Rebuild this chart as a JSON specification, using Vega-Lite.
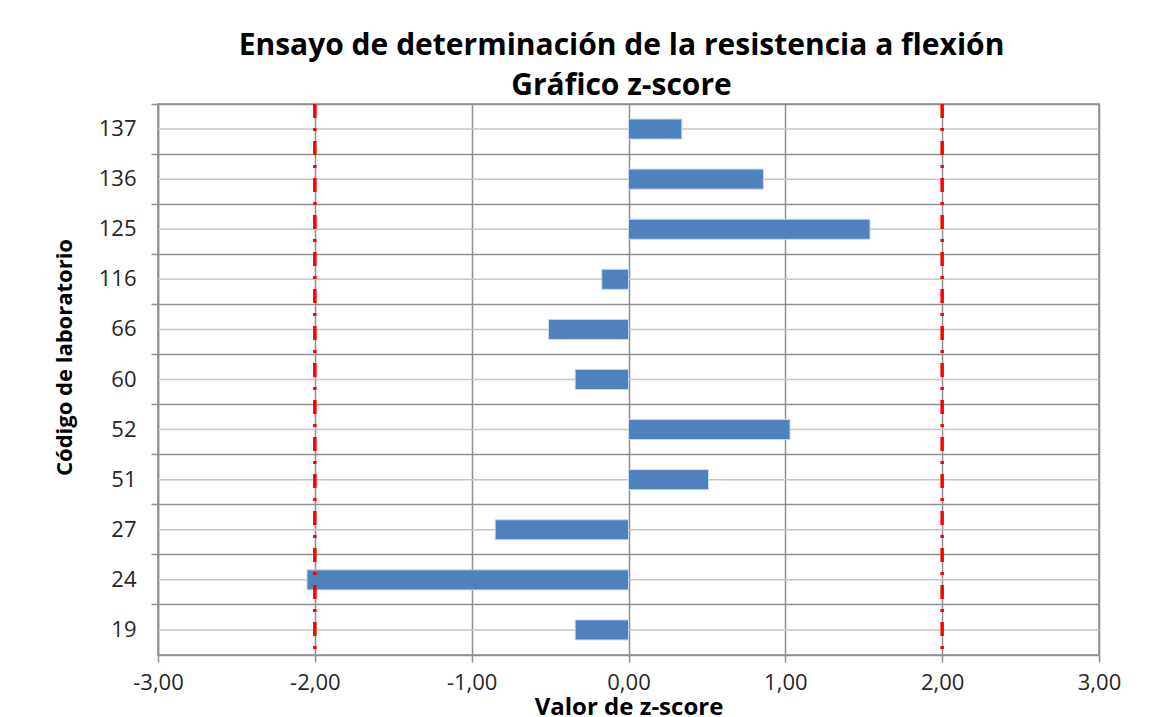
{
  "$schema": "https://vega.github.io/schema/vega-lite/v6.json",
  "width": 941,
  "height": 551,
  "autosize": "none",
  "padding": {"left": 158, "top": 104, "right": 61, "bottom": 62},
  "background": "white",
  "title": {
    "text": ["Ensayo de determinación de la resistencia a flexión", "Gráfico z-score"],
    "font": "Open Sans",
    "fontSize": 30,
    "fontWeight": "bold",
    "color": "#000000",
    "anchor": "middle",
    "lineHeight": 40,
    "offset": 1,
    "dx": -7
  },
  "data": {
    "values": [
      {"lab": "137", "z": 0.34},
      {"lab": "136", "z": 0.86},
      {"lab": "125", "z": 1.54},
      {"lab": "116", "z": -0.17},
      {"lab": "66", "z": -0.51},
      {"lab": "60", "z": -0.34},
      {"lab": "52", "z": 1.03},
      {"lab": "51", "z": 0.51},
      {"lab": "27", "z": -0.85},
      {"lab": "24", "z": -2.05},
      {"lab": "19", "z": -0.34}
    ]
  },
  "layer": [
    {
      "mark": {"type": "rule", "color": "#c6c6c6", "strokeWidth": 1.5},
      "encoding": {
        "y": {
          "field": "lab",
          "type": "ordinal",
          "sort": ["137", "136", "125", "116", "66", "60", "52", "51", "27", "24", "19"],
          "scale": {"paddingInner": 0, "paddingOuter": 0},
          "axis": {
            "orient": "left",
            "bandPosition": 0,
            "grid": true,
            "gridColor": "#8f8f8f",
            "gridWidth": 1.5,
            "ticks": true,
            "tickColor": "#8f8f8f",
            "tickWidth": 1.5,
            "tickSize": 7,
            "labels": false,
            "domain": false,
            "title": null
          }
        },
        "x": {"datum": -3, "type": "quantitative", "title": "Valor de z-score", "axis": {"values": [-3, -2, -1, 0, 1, 2, 3]}},
        "x2": {"datum": 3}
      }
    },
    {
      "mark": {"type": "bar", "color": "#4f81bd", "height": {"band": 0.4}, "stroke": "#c9d8ec", "strokeWidth": 1},
      "encoding": {
        "y": {
          "field": "lab",
          "type": "ordinal",
          "sort": ["137", "136", "125", "116", "66", "60", "52", "51", "27", "24", "19"],
          "axis": {
            "orient": "left",
            "grid": false,
            "ticks": false,
            "domain": true,
            "domainColor": "#8f8f8f",
            "domainWidth": 1.5,
            "labelFont": "Open Sans",
            "labelFontSize": 22,
            "labelColor": "#262626",
            "labelPadding": 22,
            "title": "Código de laboratorio",
            "titleFont": "Open Sans",
            "titleFontSize": 22,
            "titleFontWeight": "bold",
            "titleColor": "#000000",
            "titleY": 253,
            "titlePadding": 22
          }
        },
        "x": {
          "field": "z",
          "type": "quantitative",
          "title": "Valor de z-score",
          "scale": {"domain": [-3, 3], "nice": false, "zero": false},
          "axis": {"values": [-3, -2, -1, 0, 1, 2, 3]}
        }
      }
    },
    {
      "data": {"values": [{"limite": -2}, {"limite": 2}]},
      "mark": {"type": "rule", "color": "#ff0000", "strokeWidth": 3.5, "strokeDash": [14, 10, 3, 10]},
      "encoding": {
        "x": {"field": "limite", "type": "quantitative", "title": "Valor de z-score", "axis": {"values": [-3, -2, -1, 0, 1, 2, 3]}}
      }
    }
  ],
  "resolve": {"axis": {"y": "independent"}},
  "config": {
    "view": {"stroke": "#8f8f8f", "strokeWidth": 1.5},
    "axisX": {
      "labelExpr": "replace(replace(format(datum.value, '.2f'), '.', ','), '\u2212', '-')",
      "grid": true,
      "gridColor": "#8f8f8f",
      "gridWidth": 1.5,
      "domainColor": "#8f8f8f",
      "domainWidth": 1.5,
      "tickColor": "#8f8f8f",
      "tickWidth": 1.5,
      "tickSize": 7,
      "labelFont": "Open Sans",
      "labelFontSize": 22,
      "labelColor": "#262626",
      "labelPadding": 10,
      "labelFlush": false,
      "titleFont": "Open Sans",
      "titleFontSize": 24,
      "titleFontWeight": "bold",
      "titleColor": "#000000",
      "titlePadding": 2
    }
  }
}
